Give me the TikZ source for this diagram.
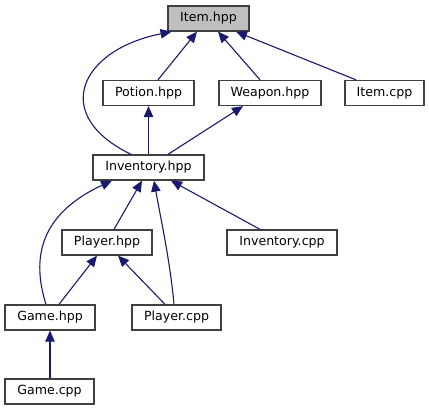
\documentclass[tikz,border=0pt]{standalone}
\usepackage{fontspec}
\setmainfont{DejaVu Sans}
\usetikzlibrary{arrows.meta}
\definecolor{edgec}{HTML}{191970}
\definecolor{boxc}{HTML}{404040}
\definecolor{hlc}{HTML}{BFBFBF}
\begin{document}
\begin{tikzpicture}[x=1pt,y=-1pt,
  file/.style={draw=boxc,line width=1.3pt,fill=white,minimum height=25pt,inner sep=0pt,font=\fontsize{12.6}{14}\selectfont},
  inc/.style={draw=edgec,line width=1.1pt,-{Triangle[length=11pt,width=9.5pt]},fill=none},
]
\useasboundingbox (0,0) rectangle (429,411);
\node[file,fill=hlc,minimum width=81pt] (item) at (208.5,18.5) {Item.hpp};
\node[file,minimum width=91pt] (potion) at (148.5,93) {Potion.hpp};
\node[file,minimum width=102pt] (weapon) at (270,93) {Weapon.hpp};
\node[file,minimum width=79pt] (itemcpp) at (384.5,93) {Item.cpp};
\node[file,minimum width=111pt] (inv) at (148.5,167.5) {Inventory.hpp};
\node[file,minimum width=90pt] (player) at (107,242.5) {Player.hpp};
\node[file,minimum width=110pt] (invcpp) at (282,242.5) {Inventory.cpp};
\node[file,minimum width=90pt] (game) at (50,317.5) {Game.hpp};
\node[file,minimum width=89pt] (playercpp) at (176.5,317.5) {Player.cpp};
\node[file,minimum width=89pt] (gamecpp) at (49.5,391.5) {Game.cpp};

\draw[inc] ([xshift=9.5pt]potion.north) -- ([xshift=-11.5pt]item.south);
\draw[inc] ([xshift=-10pt]weapon.north) -- ([xshift=9.5pt]item.south);
\draw[inc] ([xshift=-28.5pt]itemcpp.north) -- ([xshift=27.5pt]item.south);
\draw[inc] ([xshift=-17.5pt]inv.north) .. controls (50,115) and (80,50) .. ([xshift=-37pt]item.south);
\draw[inc] (inv.north) -- (potion.south);
\draw[inc] ([xshift=19.5pt]inv.north) -- ([xshift=-27pt]weapon.south);
\draw[inc] ([xshift=7pt]player.north) -- ([xshift=-6.5pt]inv.south);
\draw[inc] ([xshift=-2.5pt]playercpp.north) .. controls (170,260) and (160,215) .. ([xshift=5.5pt]inv.south);
\draw[inc] ([xshift=-22pt]invcpp.north) -- ([xshift=22.5pt]inv.south);
\draw[inc] ([xshift=-4pt]game.north) .. controls (32,260) and (38,215) .. ([xshift=-36.5pt]inv.south);
\draw[inc] ([xshift=9pt]game.north) -- ([xshift=-10pt]player.south);
\draw[inc] ([xshift=-11.5pt]playercpp.north) -- ([xshift=11pt]player.south);
\draw[inc] ([xshift=0.5pt]gamecpp.north) -- (game.south);
\end{tikzpicture}
\end{document}
